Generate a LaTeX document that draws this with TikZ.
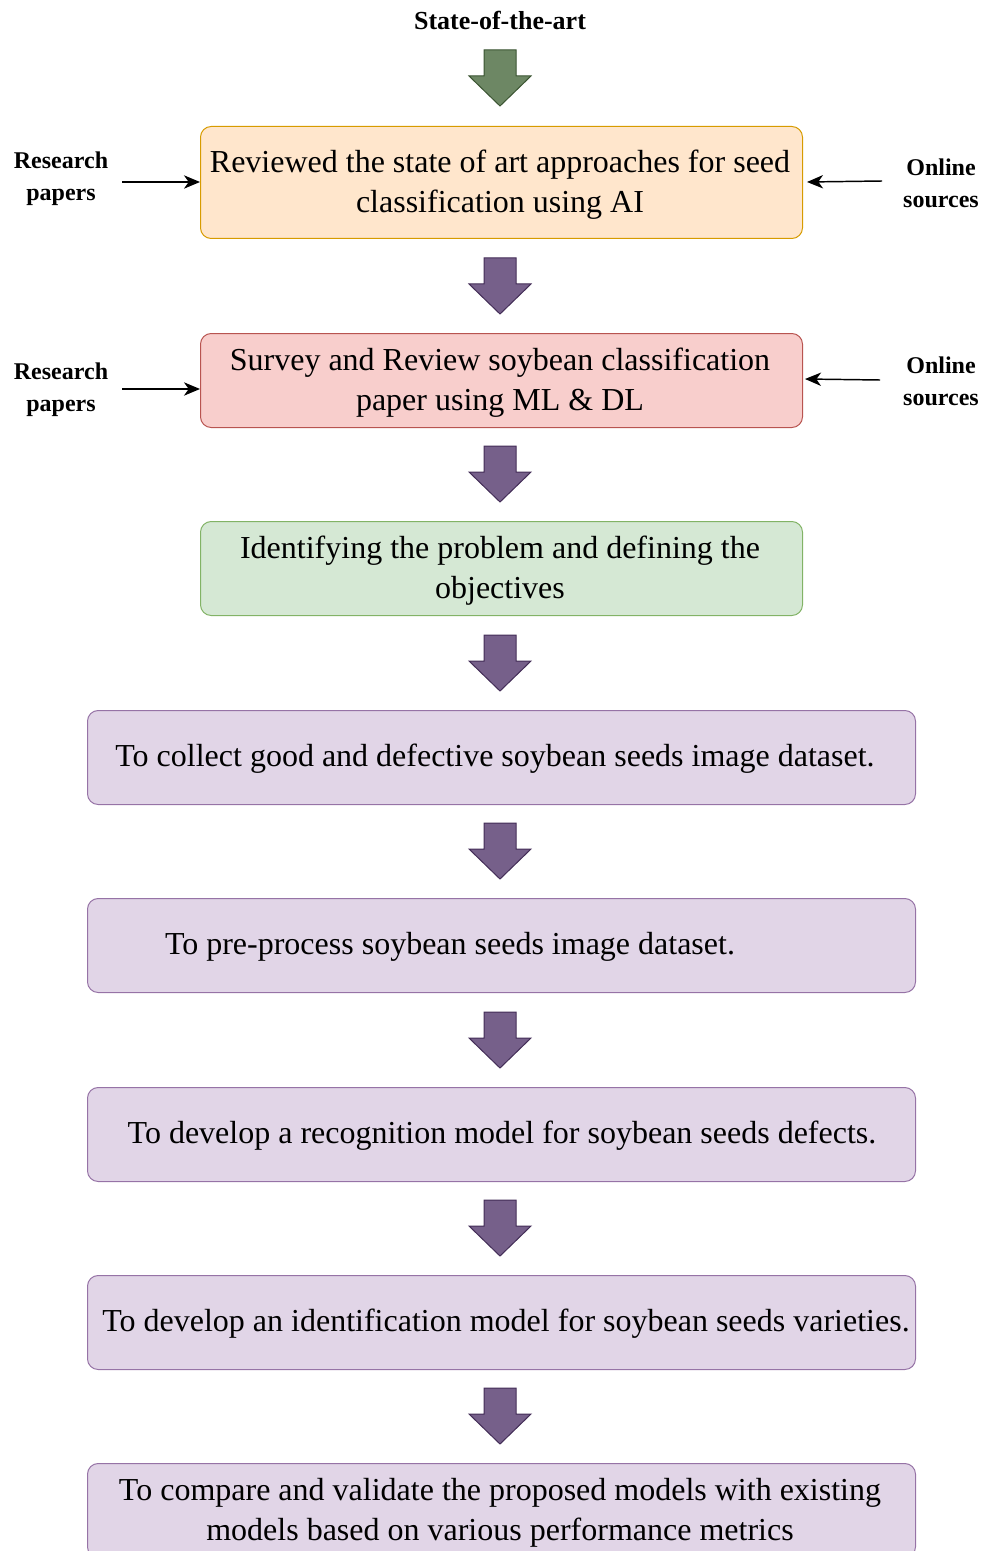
\documentclass[tikz,border=0pt]{standalone}
\usepackage{fontspec}
\setmainfont{Liberation Serif}
\usetikzlibrary{arrows.meta}
\definecolor{orfill}{HTML}{FFE6CC}\definecolor{ordraw}{HTML}{D79B00}
\definecolor{rdfill}{HTML}{F8CECC}\definecolor{rddraw}{HTML}{B85450}
\definecolor{gnfill}{HTML}{D5E8D4}\definecolor{gndraw}{HTML}{82B366}
\definecolor{pufill}{HTML}{E1D5E7}\definecolor{pudraw}{HTML}{9673A6}
\definecolor{bagfill}{HTML}{6D8764}\definecolor{bagdraw}{HTML}{3A5431}
\definecolor{bapfill}{HTML}{76608A}\definecolor{bapdraw}{HTML}{432D57}
\begin{document}
\begin{tikzpicture}[x=0.75pt,y=-0.75pt,
  box/.style={draw, line width=0.75pt, rounded corners=8pt, inner sep=0pt, anchor=north west},
  boxtext/.style={font=\fontsize{24}{30}\selectfont, align=center, inner sep=0pt},
  side/.style={font=\bfseries\fontsize{18}{24}\selectfont, align=center, inner sep=0pt},
  feed/.style={-{Stealth[length=12pt,width=10pt,inset=3.5pt]}, line width=1.1pt},
  blockarrow/.pic={\path[pic actions, line width=0.75pt]
    (-16,0) -- (16,0) -- (16,26) -- (31,26) -- (0,56) -- (-31,26) -- (-16,26) -- cycle;},
  garrow/.style={fill=bagfill, draw=bagdraw},
  parrow/.style={fill=bapfill, draw=bapdraw}]
\clip (0,0) rectangle (986,1551);

% title and the block arrows between the stages
\node[side, font=\bfseries\fontsize{19.5}{24}\selectfont] (title) at (500,20) {State-of-the-art};
\pic[garrow] at (500,50) {blockarrow};
\foreach \y in {258,446,635,823,1012,1200,1388}
  \pic[parrow] at (500,\y) {blockarrow};

% stage boxes
\node[box, fill=orfill, draw=ordraw, minimum width=602*0.75pt, minimum height=112*0.75pt] (b1) at (200,126) {};
\node[box, fill=rdfill, draw=rddraw, minimum width=602*0.75pt, minimum height=94*0.75pt] (b2) at (200,333) {};
\node[box, fill=gnfill, draw=gndraw, minimum width=602*0.75pt, minimum height=94*0.75pt] (b3) at (200,521) {};
\node[box, fill=pufill, draw=pudraw, minimum width=828*0.75pt, minimum height=94*0.75pt] (b4) at (87,710) {};
\node[box, fill=pufill, draw=pudraw, minimum width=828*0.75pt, minimum height=94*0.75pt] (b5) at (87,898) {};
\node[box, fill=pufill, draw=pudraw, minimum width=828*0.75pt, minimum height=94*0.75pt] (b6) at (87,1087) {};
\node[box, fill=pufill, draw=pudraw, minimum width=828*0.75pt, minimum height=94*0.75pt] (b7) at (87,1275) {};
\node[box, fill=pufill, draw=pudraw, minimum width=828*0.75pt, minimum height=94*0.75pt] (b8) at (87,1463) {};

% stage texts
\node[boxtext] (t1) at (500,184.5) {Reviewed the state of art approaches for seed\\classification using AI};
\node[boxtext] (t2) at (500,382.5) {Survey and Review soybean classification\\paper using ML \& DL};
\node[boxtext] (t3) at (500,570.5) {Identifying the problem and defining the\\objectives};
\node[boxtext] (t4) at (495,759) {To collect good and defective soybean seeds image dataset.};
\node[boxtext] (t5) at (450,947) {To pre-process soybean seeds image dataset.};
\node[boxtext] (t6) at (502,1136) {To develop a recognition model for soybean seeds defects.};
\node[boxtext] (t7) at (506,1324) {To develop an identification model for soybean seeds varieties.};
\node[boxtext] (t8) at (500,1512.5) {To compare and validate the proposed models with existing\\models based on various performance metrics};

% inputs on both sides of the first two stages
\node[side] (rp1) at (61,179) {Research\\papers};
\node[side] (os1) at (941,183.5) {Online\\sources};
\node[side] (rp2) at (61,390) {Research\\papers};
\node[side] (os2) at (941,381.5) {Online\\sources};
\coordinate (rp1s) at (122,182);
\coordinate (os1s) at (882,181);
\coordinate (os1e) at (807,182);
\coordinate (rp2s) at (122,389);
\coordinate (os2s) at (880,380);
\coordinate (os2e) at (805,379);
\draw[feed] (rp1s) -- (rp1s -| b1.west);
\draw[feed] (os1s) -- (os1e);
\draw[feed] (rp2s) -- (rp2s -| b2.west);
\draw[feed] (os2s) -- (os2e);
\end{tikzpicture}
\end{document}
